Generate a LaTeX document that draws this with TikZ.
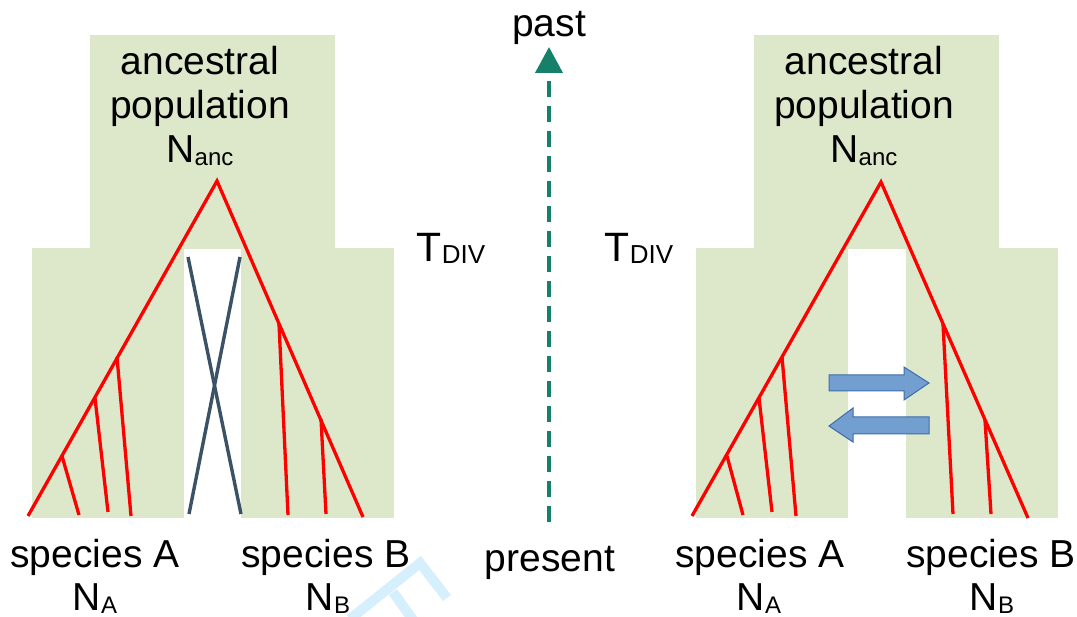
\documentclass[tikz,border=0pt]{standalone}
\usepackage{fontspec}
\setmainfont{Liberation Sans}
\usetikzlibrary{arrows.meta}
\definecolor{popgreen}{HTML}{DDE8CB}
\definecolor{treered}{HTML}{FF0000}
\definecolor{slategrey}{HTML}{3B5266}
\definecolor{timeteal}{HTML}{17806A}
\definecolor{migfill}{HTML}{729FCF}
\definecolor{migdraw}{HTML}{3E6DAA}
\definecolor{wmark}{HTML}{D5EFFC}
\newcommand{\bigtxt}{\fontsize{39}{44}\selectfont}
\newcommand{\sublbl}[1]{\raisebox{-3pt}{\fontsize{24}{24}\selectfont #1}}
\newcommand{\tdiv}{{\fontsize{41}{44}\selectfont T}\raisebox{-2pt}{\fontsize{26}{26}\selectfont DIV}}
\begin{document}
\begin{tikzpicture}[x=1pt,y=-1pt,
  pop/.style={fill=popgreen,draw=none},
  branch/.style={draw=treered,line width=3.3pt,line join=miter},
  crossline/.style={draw=slategrey,line width=3.4pt},
  lbl/.style={anchor=base,inner sep=0pt,font=\bigtxt},
  migarrow/.style={fill=migfill,draw=migdraw,line width=1pt,line join=miter},
  timeline/.style={draw=timeteal,line width=4pt,dash pattern=on 16pt off 9pt,-{Triangle[width=27pt,length=26pt]}},
  wm/.style={draw=wmark,line width=10pt}]
\useasboundingbox (0,0) rectangle (1077,617);
% ---------------- left panel: populations
\fill[pop] (90,35) rectangle (335,249);
\fill[pop] (32,248) rectangle (184,518);
\fill[pop] (241,248) rectangle (394,518);
% ---------------- right panel: populations
\fill[pop] (754,35) rectangle (999,249);
\fill[pop] (696,248) rectangle (848,518);
\fill[pop] (906,248) rectangle (1058,518);
% ---------------- left tree
\coordinate (L-apex) at (217,181);
\coordinate (L-a0) at (28,516);
\coordinate (L-b0) at (363,517);
\coordinate (L-n1) at (117,357); \coordinate (L-t1) at (131,516);
\coordinate (L-n2) at (95,398);  \coordinate (L-t2) at (108,512);
\coordinate (L-n3) at (62,456);  \coordinate (L-t3) at (79,515);
\coordinate (L-m1) at (279,324); \coordinate (L-u1) at (288,515);
\coordinate (L-m2) at (321,419); \coordinate (L-u2) at (326,514);
\draw[branch] (L-a0) -- (L-apex) -- (L-b0);
\draw[branch] (L-n1) -- (L-t1);
\draw[branch] (L-n2) -- (L-t2);
\draw[branch] (L-n3) -- (L-t3);
\draw[branch] (L-m1) -- (L-u1);
\draw[branch] (L-m2) -- (L-u2);
% crossing lineages
\coordinate (X-a) at (188,257); \coordinate (X-b) at (241,514);
\coordinate (X-c) at (240,257); \coordinate (X-d) at (189,514);
\draw[crossline] (X-a) -- (X-b);
\draw[crossline] (X-c) -- (X-d);
% ---------------- right tree
\coordinate (R-apex) at (881,182);
\coordinate (R-a0) at (692,516);
\coordinate (R-b0) at (1028,518);
\coordinate (R-n1) at (782,357); \coordinate (R-t1) at (796,516);
\coordinate (R-n2) at (759,398); \coordinate (R-t2) at (772,512);
\coordinate (R-n3) at (727,456); \coordinate (R-t3) at (743,515);
\coordinate (R-m1) at (943,324); \coordinate (R-u1) at (953,514);
\coordinate (R-m2) at (985,420); \coordinate (R-u2) at (991,514);
\draw[branch] (R-a0) -- (R-apex) -- (R-b0);
\draw[branch] (R-n1) -- (R-t1);
\draw[branch] (R-n2) -- (R-t2);
\draw[branch] (R-n3) -- (R-t3);
\draw[branch] (R-m1) -- (R-u1);
\draw[branch] (R-m2) -- (R-u2);
% migration arrows
\draw[migarrow] (829,375) -- (904,375) -- (904,367) -- (929,383) -- (904,400) -- (904,391) -- (829,391) -- cycle;
\draw[migarrow] (929,417) -- (853,417) -- (853,408) -- (829,426) -- (853,442) -- (853,434) -- (929,434) -- cycle;
% ---------------- time axis
\coordinate (presentTop) at (549,522);
\coordinate (pastTip) at (549,47);
\draw[timeline] (presentTop) -- (pastTip);
% ---------------- watermark fragment
\draw[wm,line join=miter] (350,619) -- (420,563) -- (447,598);
\draw[wm] (393,592) -- (413,620);
% ---------------- labels
\node[lbl] (L-anc1) at (200,75) {ancestral};
\node[lbl] (L-anc2) at (200,119) {population};
\node[lbl] (L-anc3) at (200,163) {N\sublbl{anc}};
\node[lbl] (R-anc1) at (864,75) {ancestral};
\node[lbl] (R-anc2) at (864,119) {population};
\node[lbl] (R-anc3) at (864,163) {N\sublbl{anc}};
\node[lbl] (L-tdiv) at (451,262) {\tdiv};
\node[lbl] (R-tdiv) at (639,262) {\tdiv};
\node[lbl] (past) at (549,37) {past};
\node[lbl] (present) at (550,571) {present};
\node[lbl] (L-spA) at (95,567) {species A};
\node[lbl] (L-NA) at (95,610) {N\sublbl{A}};
\node[lbl] (L-spB) at (326,567) {species B};
\node[lbl] (L-NB) at (328,610) {N\sublbl{B}};
\node[lbl] (R-spA) at (760,567) {species A};
\node[lbl] (R-NA) at (759,610) {N\sublbl{A}};
\node[lbl] (R-spB) at (991,567) {species B};
\node[lbl] (R-NB) at (992,610) {N\sublbl{B}};
\end{tikzpicture}
\end{document}
